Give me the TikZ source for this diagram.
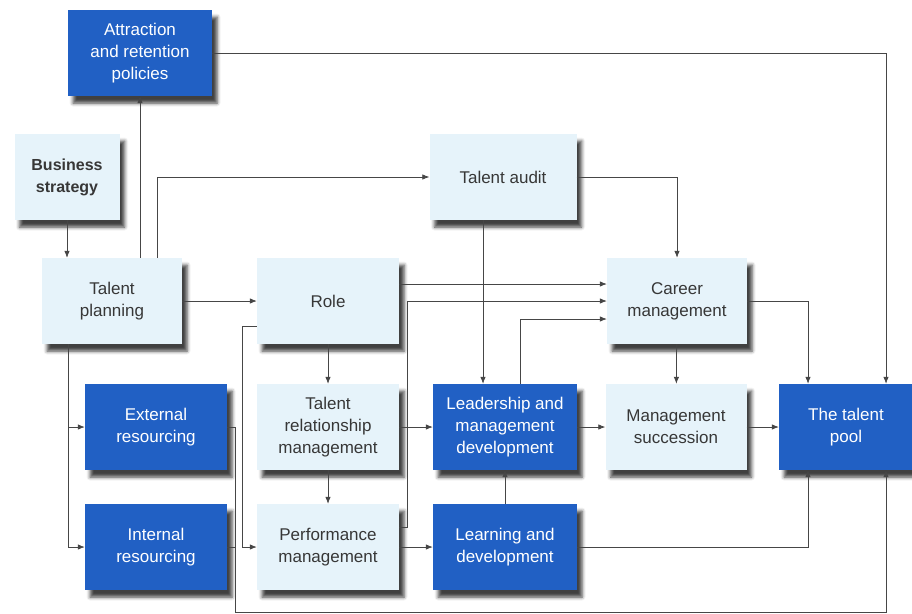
\documentclass[tikz,border=0pt]{standalone}
\usepackage{fontspec}
\setmainfont{Liberation Sans}
\usetikzlibrary{arrows.meta,shadows.blur}
\definecolor{paleblue}{RGB}{230,243,250}
\definecolor{deepblue}{RGB}{33,96,196}
\definecolor{inkgray}{RGB}{55,55,55}
\definecolor{linegray}{RGB}{70,70,70}

\begin{document}
\begin{tikzpicture}[x=1pt,y=-1pt,
   pale/.style={fill=paleblue,text=inkgray,minimum width=142pt,minimum height=86pt,
     inner sep=0pt,align=center,font=\fontsize{17}{22}\selectfont,
     blur shadow={shadow xshift=5pt,shadow yshift=-7pt,shadow blur radius=3.5pt,shadow opacity=75}},
   deep/.style={pale,fill=deepblue,text=white},
   arr/.style={draw=linegray,line width=0.75pt,-{Latex[length=7pt,width=5.5pt]}},
   wire/.style={draw=linegray,line width=0.75pt}]
   \useasboundingbox (0,0) rectangle (912,613);
   \node[deep,minimum width=144pt] (attr) at (140,53) {Attraction\\and retention\\policies};
   \node[pale,minimum width=105pt,font=\fontsize{16}{22}\selectfont\bfseries] (biz) at (67,177) {Business\\strategy};
   \node[pale,minimum width=140pt] (plan) at (112,301) {Talent\\planning};
   \node[pale] (role) at (328,301) {Role};
   \node[pale,minimum width=147pt] (audit) at (503,177) {Talent audit};
   \node[pale,minimum width=140pt] (career) at (677,301) {Career\\management};
   \node[deep] (ext) at (156,427) {External\\resourcing};
   \node[pale] (trm) at (328,427) {Talent\\relationship\\management};
   \node[deep,minimum width=144pt] (lead) at (505,427) {Leadership and\\management\\development};
   \node[pale,minimum width=141pt] (ms) at (676,427) {Management\\succession};
   \node[deep,minimum width=134pt] (pool) at (846,427) {The talent\\pool};
   \node[deep] (int) at (156,547) {Internal\\resourcing};
   \node[pale] (pm) at (328,547) {Performance\\management};
   \node[deep,minimum width=144pt] (learn) at (505,547) {Learning and\\development};
   \coordinate (split) at ([xshift=-44pt]plan.south);
   \coordinate (tdrop) at ([xshift=-22pt]lead.north);
   \coordinate (sink) at (235,612);
   \draw[arr] (biz) -- (biz |- plan.north);
   \draw[arr] (attr.south |- plan.north) -- (attr);
   \draw[arr] ([xshift=45pt]plan.north) |- (audit);
   \draw[arr] (plan) -- (role);
   \draw[arr] (attr) -| ([xshift=40pt]pool.north);
   \draw[arr] (audit) -| (career);
   \draw[arr] (tdrop |- audit.south) -- (tdrop);
   \draw[arr] ([yshift=17pt]role.east) -- ([yshift=17pt]career.west);
   \draw[arr] ([yshift=20pt]pm.east) -- ++(8,0) |- (career.west);
   \draw[arr] ([xshift=15pt]lead.north) |- ([yshift=-18pt]career.west);
   \draw[arr] (role) -- (trm);
   \draw[arr] (trm) -- (pm);
   \draw[arr] ([yshift=-25pt]role.west) -- ++(-14,0) |- (pm);
   \draw[arr] (trm) -- (lead);
   \draw[arr] (split) |- (int);
   \draw[arr] (split |- ext) -- (ext);
   \draw[arr] (ext) -| (sink) -| ([xshift=40pt]pool.south);
   \draw[wire] (int) -- (int -| sink);
   \draw[arr] (lead) -- (ms);
   \draw[arr] (career) -- (ms);
   \draw[arr] (ms) -- (pool);
   \draw[arr] (career) -| ([xshift=-38pt]pool.north);
   \draw[arr] (learn) -| ([xshift=-38pt]pool.south);
   \draw[arr] (learn) -- (lead);
   \draw[arr] (pm) -- (learn);
\end{tikzpicture}
\end{document}
